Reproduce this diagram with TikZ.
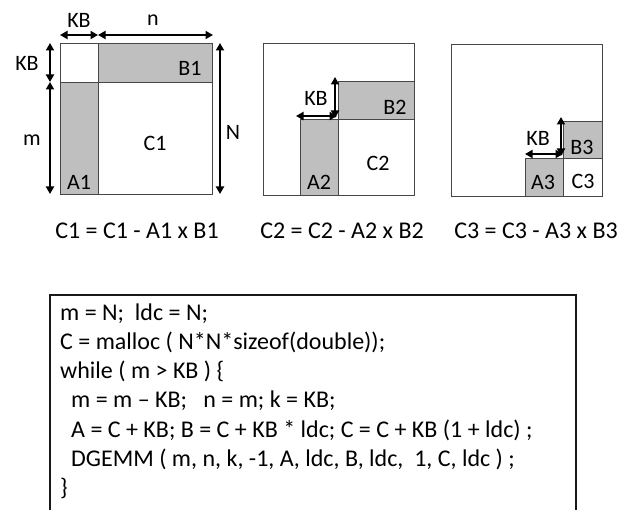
\documentclass[tikz,border=0pt]{standalone}
\usepackage{fontspec}
\setmainfont{Carlito}
\usetikzlibrary{arrows.meta}
\definecolor{blockgray}{RGB}{191,191,191}
\definecolor{edgegray}{RGB}{70,70,70}
\tikzset{
  mat/.style={draw=edgegray, line width=0.8pt, fill=white},
  blk/.style={draw=edgegray, line width=0.8pt, fill=blockgray},
  dimarrow/.style={{Triangle[length=7.5pt,width=8pt]}-{Triangle[length=7.5pt,width=8pt]}, line width=1.9pt},
  lbl/.style={font=\fontsize{22}{26}\selectfont, inner sep=0pt},
  eqn/.style={font=\fontsize{24}{29}\selectfont, inner sep=0pt},
  codeline/.style={font=\fontsize{24}{29}\selectfont, inner sep=0pt, anchor=base west},
  codebox/.style={draw=black!90, line width=1.5pt}
}
\begin{document}
\begin{tikzpicture}[x=1pt,y=-1pt]
\useasboundingbox (0,0) rectangle (628,510);
\fill[white] (0,0) rectangle (628,510);
\clip (0,0) rectangle (628,510);

% ---------- matrix 1 ----------
\draw[mat] (60,43) rectangle (212,194);
\draw[blk] (60,82) rectangle (98,194);
\draw[blk] (98,43) rectangle (212,82);
\coordinate (t1a) at (60,35);
\coordinate (t1b) at (98,35);
\coordinate (t1c) at (213,35);
\coordinate (l1a) at (50,43);
\coordinate (l1b) at (50,82);
\coordinate (l1c) at (50,194);
\coordinate (r1a) at (220,43);
\coordinate (r1b) at (220,194);
\draw[dimarrow] (t1a) -- (t1b);
\draw[dimarrow] (t1b) -- (t1c);
\draw[dimarrow] (l1a) -- (l1b);
\draw[dimarrow] (l1b) -- (l1c);
\draw[dimarrow] (r1a) -- (r1b);
\node[lbl] (kbtop1) at (79,20) {KB};
\node[lbl] (ntop1) at (153,20) {n};
\node[lbl] (kbleft1) at (27,63) {KB};
\node[lbl] (mleft1) at (32,140) {m};
\node[lbl] (nright1) at (233,132) {N};
\node[lbl] (b1) at (190,68) {B1};
\node[lbl] (a1) at (79,182) {A1};
\node[lbl] (c1) at (155,143) {C1};

% ---------- matrix 2 ----------
\draw[mat] (263,43) rectangle (414,195);
\draw[blk] (300,119) rectangle (338,195);
\draw[blk] (338,81) rectangle (414,119);
\coordinate (v2a) at (335,77);
\coordinate (v2b) at (335,118);
\coordinate (h2a) at (296,116);
\coordinate (h2b) at (337,116);
\draw[dimarrow] (v2a) -- (v2b);
\draw[dimarrow] (h2a) -- (h2b);
\node[lbl] (kb2) at (316,98) {KB};
\node[lbl] (b2) at (395,107) {B2};
\node[lbl] (a2) at (319,182) {A2};
\node[lbl] (c2) at (378,163) {C2};

% ---------- matrix 3 ----------
\draw[mat] (451,44) rectangle (602,196);
\draw[blk] (525,158) rectangle (563,196);
\draw[blk] (563,121) rectangle (602,158);
\coordinate (v3a) at (561,117);
\coordinate (v3b) at (561,156);
\coordinate (h3a) at (525,154);
\coordinate (h3b) at (563,154);
\draw[dimarrow] (v3a) -- (v3b);
\draw[dimarrow] (h3a) -- (h3b);
\node[lbl] (kb3) at (538,138) {KB};
\node[lbl] (b3) at (582,147) {B3};
\node[lbl] (a3) at (543,182) {A3};
\node[lbl] (c3) at (583,181) {C3};

% ---------- equations ----------
\node[eqn] (eq1) at (137,231) {C1 = C1 - A1 x B1};
\node[eqn] (eq2) at (342,231) {C2 = C2 - A2 x B2};
\node[eqn] (eq3) at (536,231) {C3 = C3 - A3 x B3};

% ---------- code box ----------
\coordinate (cbl) at (50,530);
\coordinate (ctl) at (50,295);
\coordinate (ctr) at (576,295);
\coordinate (cbr) at (576,530);
\draw[codebox] (cbl) -- (ctl) -- (ctr) -- (cbr);
\node[codeline] (cl1) at (60,320.0) {m = N;~ ldc = N;};
\node[codeline] (cl2) at (60,349.3) {C = malloc ( N*N*sizeof(double));};
\node[codeline] (cl3) at (60,378.6) {while ( m > KB ) \{};
\node[codeline] (cl4) at (60,407.9) {\hspace*{11pt}m = m – KB;~~ n = m; k = KB;};
\node[codeline] (cl5) at (60,437.2) {\hspace*{11pt}A = C + KB; B = C + KB * ldc; C = C + KB (1 + ldc) ;};
\node[codeline] (cl6) at (60,466.5) {\hspace*{11pt}DGEMM ( m, n, k, -1, A, ldc, B, ldc,~ 1, C, ldc ) ;};
\node[codeline] (cl7) at (60,495.8) {\}};
\end{tikzpicture}
\end{document}
